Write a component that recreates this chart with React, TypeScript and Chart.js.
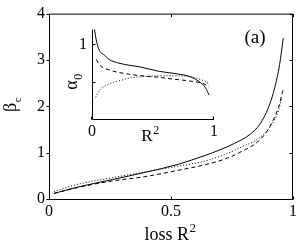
import React, { useEffect, useRef } from 'react';
import { Chart, registerables } from 'chart.js';
Chart.register(...registerables);

// ---- main panel data (loss R^2 vs beta_c) ----
const mainSolidX = [0.02, 0.12, 0.26, 0.39, 0.53, 0.64, 0.70, 0.76, 0.82, 0.865, 0.905, 0.925, 0.945, 0.96];
const mainSolidY = [0.12, 0.26, 0.42, 0.57, 0.75, 0.94, 1.06, 1.20, 1.38, 1.62, 2.05, 2.40, 2.90, 3.47];
const mainDashX = [0.02, 0.12, 0.26, 0.39, 0.53, 0.64, 0.72, 0.78, 0.865, 0.905, 0.94, 0.96];
const mainDashY = [0.12, 0.25, 0.39, 0.48, 0.62, 0.74, 0.86, 1.00, 1.28, 1.56, 1.97, 2.37];
const mainDotX = [0.02, 0.12, 0.26, 0.39, 0.51, 0.64, 0.72, 0.78, 0.865, 0.905, 0.94, 0.955];
const mainDotY = [0.16, 0.32, 0.46, 0.58, 0.69, 0.82, 0.96, 1.10, 1.33, 1.55, 1.90, 2.20];
const mainXTicks = [0, 0.5, 1];
const mainYTicks = [0, 1, 2, 3, 4];

// ---- inset data (R^2 vs alpha_0) ----
const insSolidX = [0.02, 0.035, 0.06, 0.10, 0.14, 0.22, 0.31, 0.39, 0.55, 0.68, 0.80, 0.88, 0.93, 0.96];
const insSolidY = [1.21, 1.06, 0.92, 0.86, 0.80, 0.75, 0.72, 0.70, 0.64, 0.61, 0.57, 0.50, 0.42, 0.32];
const insDashX = [0.035, 0.06, 0.14, 0.31, 0.47, 0.55, 0.64, 0.80, 0.92, 0.96];
const insDashY = [0.80, 0.73, 0.66, 0.60, 0.57, 0.56, 0.54, 0.51, 0.47, 0.43];
const insDotX = [0.03, 0.06, 0.14, 0.22, 0.31, 0.43, 0.55, 0.68, 0.80, 0.92, 0.96];
const insDotY = [0.29, 0.38, 0.47, 0.51, 0.55, 0.57, 0.58, 0.58, 0.57, 0.51, 0.47];
const insXTicks = [0, 1];
const insYTicks = [0.5, 1];
const insYLabels = ['', '1'];

const FONT = '"Liberation Serif", "Times New Roman", serif';

const pts = (xs: number[], ys: number[]) => xs.map((x, i) => ({ x, y: ys[i] }));

function lineDs(data: any, dash: number[]) {
  return {
    data,
    showLine: true,
    borderColor: '#000',
    borderWidth: 1,
    borderDash: dash,
    pointRadius: 0,
    cubicInterpolationMode: 'monotone' as const,
    fill: false,
  };
}

function drawLabel(ctx: CanvasRenderingContext2D, x: number, y: number, main: string, script: string,
  mainSize: number, scriptSize: number, shift: number, rotate: boolean) {
  ctx.save();
  ctx.translate(x, y);
  if (rotate) ctx.rotate(-Math.PI / 2);
  ctx.fillStyle = '#000';
  ctx.textAlign = 'left';
  ctx.textBaseline = 'alphabetic';
  ctx.font = `${mainSize}px ${FONT}`;
  const w1 = ctx.measureText(main).width;
  ctx.font = `${scriptSize}px ${FONT}`;
  const w2 = ctx.measureText(script).width;
  const start = -(w1 + w2) / 2;
  ctx.font = `${mainSize}px ${FONT}`;
  ctx.fillText(main, start, 0);
  ctx.font = `${scriptSize}px ${FONT}`;
  ctx.fillText(script, start + w1 + 0.5, shift);
  ctx.restore();
}

const mainDeco = {
  id: 'mainDeco',
  afterDraw(chart: any) {
    const { ctx, chartArea: a, scales } = chart;
    const xs = scales.x, ys = scales.y;
    ctx.save();
    ctx.strokeStyle = '#000';
    ctx.lineWidth = 1;
    ctx.setLineDash([]);
    const L = a.left + 0.5, R = a.right - 0.5, T = a.top + 0.5, B = a.bottom + 0.5;
    ctx.strokeRect(L, T, R - L, B - T);
    ctx.beginPath();
    mainXTicks.forEach((v) => {
      const p = Math.round(xs.getPixelForValue(v)) + 0.5;
      ctx.moveTo(p, B); ctx.lineTo(p, B - 3);
      ctx.moveTo(p, T); ctx.lineTo(p, T + 3);
    });
    mainYTicks.forEach((v) => {
      const p = Math.round(ys.getPixelForValue(v)) + 0.5;
      ctx.moveTo(L, p); ctx.lineTo(L - 3, p);
      ctx.moveTo(R, p); ctx.lineTo(R - 3, p);
    });
    ctx.stroke();
    ctx.restore();
    drawLabel(ctx, 16, 105, 'β', 'c', 18, 11, 5, true);
    drawLabel(ctx, 170, 240, 'loss R', '2', 18, 13, -8, false);
    ctx.save();
    ctx.fillStyle = '#000';
    ctx.font = `19px ${FONT}`;
    ctx.textAlign = 'center';
    ctx.textBaseline = 'middle';
    ctx.fillText('(a)', 255, 38);
    ctx.restore();
  },
};

const insetDeco = {
  id: 'insetDeco',
  afterDraw(chart: any) {
    const { ctx, chartArea: a, scales } = chart;
    const xs = scales.x, ys = scales.y;
    ctx.save();
    ctx.strokeStyle = '#000';
    ctx.lineWidth = 1;
    ctx.setLineDash([]);
    const L = a.left + 0.5, B = a.bottom + 0.5;
    ctx.beginPath();
    ctx.moveTo(L, a.top);
    ctx.lineTo(L, B);
    ctx.lineTo(a.right, B);
    insYTicks.forEach((v) => {
      const p = Math.round(ys.getPixelForValue(v)) + 0.5;
      ctx.moveTo(L, p); ctx.lineTo(L + 3, p);
    });
    insXTicks.forEach((v) => {
      const p = Math.round(xs.getPixelForValue(v)) - 0.5;
      ctx.moveTo(p, B); ctx.lineTo(p, B - 3);
    });
    ctx.stroke();
    ctx.restore();
    drawLabel(ctx, 17, 67, 'α', '0', 18, 12, 5, true);
    drawLabel(ctx, 90, 126, 'R', '2', 17, 12, -7, false);
  },
};

function makeOptions(opts: any) {
  return {
    animation: false as const,
    responsive: false,
    events: [],
    plugins: { legend: { display: false }, tooltip: { enabled: false } },
    ...opts,
  };
}

export default function App() {
  const mainRef = useRef<HTMLCanvasElement>(null);
  const insRef = useRef<HTMLCanvasElement>(null);

  useEffect(() => {
    document.body.style.margin = '0';
    const main = new Chart(mainRef.current!, {
      type: 'scatter',
      data: {
        datasets: [
          lineDs(pts(mainSolidX, mainSolidY), []),
          lineDs(pts(mainDashX, mainDashY), [4, 3]),
          lineDs(pts(mainDotX, mainDotY), [1, 2]),
        ],
      },
      options: makeOptions({
        layout: { padding: { top: 12, right: 7, left: 0, bottom: 0 } },
        scales: {
          x: {
            type: 'linear', min: 0, max: 1,
            afterBuildTicks: (s: any) => { s.ticks = mainXTicks.map((v) => ({ value: v })); },
            afterFit: (s: any) => { s.height = 46; },
            grid: { display: false, drawTicks: false },
            border: { display: false },
            ticks: { color: '#000', padding: 3, font: { family: FONT, size: 16 }, maxRotation: 0,
              callback: (v: any) => String(v) },
          },
          y: {
            type: 'linear', min: 0, max: 4,
            afterBuildTicks: (s: any) => { s.ticks = mainYTicks.map((v) => ({ value: v })); },
            afterFit: (s: any) => { s.width = 49; },
            grid: { display: false, drawTicks: false },
            border: { display: false },
            ticks: { color: '#000', padding: 4, font: { family: FONT, size: 16 },
              callback: (v: any) => String(v) },
          },
        },
      }),
      plugins: [mainDeco],
    });

    const inset = new Chart(insRef.current!, {
      type: 'scatter',
      data: {
        datasets: [
          lineDs(pts(insSolidX, insSolidY), []),
          lineDs(pts(insDashX, insDashY), [4, 3]),
          lineDs(pts(insDotX, insDotY), [1, 2]),
        ],
      },
      options: makeOptions({
        layout: { padding: { top: 11.5, right: 11, left: 0, bottom: 0 } },
        scales: {
          x: {
            type: 'linear', min: 0, max: 1,
            afterBuildTicks: (s: any) => { s.ticks = insXTicks.map((v) => ({ value: v })); },
            afterFit: (s: any) => { s.height = 26; },
            grid: { display: false, drawTicks: false },
            border: { display: false },
            ticks: { color: '#000', padding: 3, font: { family: FONT, size: 16 }, maxRotation: 0,
              callback: (v: any) => String(v) },
          },
          y: {
            type: 'linear', min: 0, max: 1.2,
            afterBuildTicks: (s: any) => { s.ticks = insYTicks.map((v) => ({ value: v })); },
            afterFit: (s: any) => { s.width = 32; },
            grid: { display: false, drawTicks: false },
            border: { display: false },
            ticks: { color: '#000', padding: 5, font: { family: FONT, size: 16 },
              callback: (v: any, i: number) => insYLabels[i] ?? '' },
          },
        },
      }),
      plugins: [insetDeco],
    });

    return () => { main.destroy(); inset.destroy(); };
  }, []);

  return (
    <div style={{ position: 'fixed', left: 0, top: 0, width: 300, height: 245, background: '#fff' }}>
      <canvas ref={mainRef} width={300} height={245} style={{ position: 'absolute', left: 0, top: 0 }} />
      <canvas ref={insRef} width={165} height={130} style={{ position: 'absolute', left: 60, top: 15 }} />
    </div>
  );
}
